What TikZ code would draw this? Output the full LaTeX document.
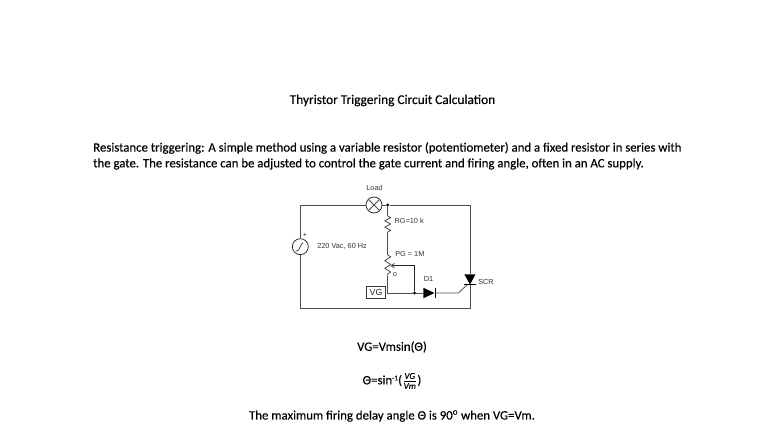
\documentclass[tikz,border=0pt]{standalone}
\usepackage{fontspec}
\usepackage{amsmath}
\setmainfont[RawFeature={embolden=0.25}]{Carlito}
\newfontfamily\circfont{Liberation Sans}
\usetikzlibrary{calc}
\tikzset{
  x=0.75pt,y=-0.75pt,
  txt/.style={inner sep=0pt,font=\fontsize{9.6}{11}\selectfont,text=black},
  lbl/.style={inner sep=0pt,font=\circfont\fontsize{5.5}{6}\selectfont,text=black!80},
  wire/.style={draw=black!70,line width=0.6pt},
  blob/.style={circle,fill=black,inner sep=0pt,minimum size=2.4pt},
  res/.style={wire,line join=round},
}
\begin{document}
\begin{tikzpicture}
\useasboundingbox (0,0) rectangle (784,441);
\node[txt,font=\fontsize{10}{11}\selectfont] (title) at (392.5,100.5) {Thyristor Triggering Circuit Calculation};
\node[txt,anchor=west] (p1) at (93,148) {Resistance triggering: A simple method using a variable resistor (potentiometer) and a fixed resistor in series with};
\node[txt,anchor=west] (p2) at (93,164) {the gate. The resistance can be adjusted to control the gate current and firing angle, often in an AC supply.};
\node[txt] (eq1) at (392,347) {VG=Vmsin(\char"0398)};
\node[txt] (eq2) at (392,381) {\char"0398=sin\raisebox{3pt}{\fontsize{5.5}{6}\selectfont -1}($\frac{\mathit{VG}\rule[-1pt]{0pt}{1pt}}{\mathit{Vm}}$)};
\node[txt] (eq3) at (392,416) {The maximum firing delay angle \char"0398{} is 90\textsuperscript{o} when VG=Vm.};
% coordinates
\coordinate (tr) at (470,205);
\coordinate (br) at (470,308.5);
\coordinate (rgt) at (387.7,216);
\coordinate (rgb) at (387.7,232);
\coordinate (pgt) at (387.7,255);
\coordinate (pgb) at (387.7,276);
\coordinate (vgj) at (387.7,293);
\coordinate (wipe) at (414.5,265.7);
\coordinate (wipetip) at (391,265.7);
\coordinate (gatek) at (458.3,293);
\coordinate (gatea) at (467.5,284.5);
% nodes
\node[circle,draw=black!80,line width=0.6pt,fill=white,minimum size=12pt,inner sep=0pt] (lamp) at (374,205) {};
\draw[wire] (lamp.north west) -- (lamp.south east) (lamp.north east) -- (lamp.south west);
\node[circle,draw=black!80,line width=0.6pt,fill=white,minimum size=12pt,inner sep=0pt] (src) at (300.3,246.7) {};
\draw[wire] ($(src.center)+(-4.5,4.5)$) .. controls ($(src.center)+(0,5)$) and ($(src.center)+(0,-4)$) .. ($(src.center)+(3,-4)$);
\node[blob] (top) at (387.7,205) {};
\node[blob] (jn) at (414.5,293) {};
\node[draw=black!80,line width=0.6pt,minimum width=14.8pt,minimum height=8.7pt,inner sep=0pt,font=\circfont\fontsize{6.6}{7}\selectfont,text=black!85] (vg) at (376,292.5) {VG};
% wires
\draw[wire] (src.north) |- (lamp.west);
\draw[wire] (src.south) |- (br) -- (470,284.5);
\draw[wire] (lamp.east) -- (top) -- (tr) -- (470,274.5);
\draw[wire] (top) -- (rgt);
\draw[res] (rgt) -- ++(3,1.6) -- ++(-6,3.2) -- ++(6,3.2) -- ++(-6,3.2) -- ++(6,3.2) -- ++(-3,1.6);
\draw[wire] (rgb) -- (pgt);
\draw[res] (pgt) -- ++(3,1.9) -- ++(-6,3.8) -- ++(6,3.8) -- ++(-6,3.8) -- ++(6,3.8) -- ++(-3,1.9) -- (pgb);
\draw[wire] (pgb) -- (vgj) -- (jn);
\draw[wire,draw=black!85] (jn) -- (wipe) -- (wipetip);
\draw[wire] (wipetip) -- ++(3.5,-2.2) (wipetip) -- ++(3.5,2.2);
% diode
\fill[black] (423.3,287.7) -- (434.5,293) -- (423.3,298.3) -- cycle;
\draw[black,line width=0.6pt] (435,287.7) -- (435,298.3);
\draw[wire] (jn) -- (423.3,293);
\draw[wire] (435,293) -- (gatek) -- (gatea);
% SCR
\fill[black] (464.3,274.3) -- (475.5,274.3) -- (470,284.5) -- cycle;
\draw[black,line width=0.6pt] (464.3,284.7) -- (475.5,284.7);
\node[lbl] (load) at (374.5,188.3) {Load};
\node[lbl,anchor=west] (rgl) at (394.3,221) {RG=10 k};
\node[lbl,anchor=west] (vac) at (317,246) {220 Vac, 60 Hz};
\node[lbl,anchor=west] (pgl) at (395,254) {PG = 1M};
\node[lbl] (ol) at (395,275) {o};
\node[lbl] (d1) at (428.5,278.5) {D1};
\node[lbl,anchor=west] (scr) at (478,282) {SCR};
\node[lbl] (plus) at (305,235) {+};
\end{tikzpicture}
\end{document}
